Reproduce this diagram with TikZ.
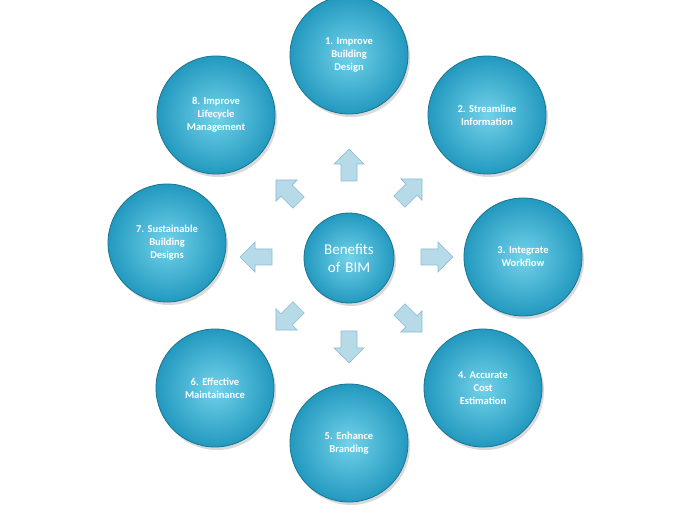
\documentclass[tikz,border=0pt]{standalone}
\usepackage{fontspec}
\setmainfont{Carlito}
\frenchspacing
\usetikzlibrary{shadows}
\definecolor{ballin}{HTML}{72D2EA}
\definecolor{ballout}{HTML}{2399BF}
\definecolor{arrfill}{HTML}{B7DAE8}
\definecolor{arrdraw}{HTML}{8CBCCF}
\tikzset{
 ball/.style={circle,minimum size=118pt,inner sep=0pt,draw=ballout!75!black,line width=0.8pt,
   shading=radial,inner color=ballin,outer color=ballout,text=white,align=center,
   font=\bfseries\fontsize{10.5}{13}\selectfont,text width=72pt,
   drop shadow={shadow xshift=2pt,shadow yshift=-3pt,opacity=0.3}},
 center/.style={ball,minimum size=90pt,font=\fontsize{15}{18}\selectfont,text width=60pt},
 barrow/.style={fill=arrfill,draw=arrdraw,line width=0.6pt}
}
\newcommand{\blkarrow}[3]{%
 \begin{scope}[shift={(#1,#2)},rotate=#3]
  \draw[barrow] (-15,-8) -- (2,-8) -- (2,-15) -- (17,0) -- (2,15) -- (2,8) -- (-15,8) -- cycle;
 \end{scope}}
\begin{document}
\begin{tikzpicture}[x=1pt,y=1pt]
\useasboundingbox (0,0) rectangle (698,514);
\node[center] (c) at (349,256) {Benefits of BIM};
\node[ball] (n1) at (349,459) {1. Improve\\ Building\\ Design};
\node[ball] (n2) at (487,399) {2. Streamline\\ Information};
\node[ball] (n3) at (523,257) {3. Integrate\\ Workflow};
\node[ball] (n4) at (483,126) {4. Accurate\\ Cost\\ Estimation};
\node[ball] (n5) at (349,71) {5. Enhance\\ Branding};
\node[ball] (n6) at (215,126) {6. Effective\\ Maintainance};
\node[ball] (n7) at (167,271) {7. Sustainable\\ Building\\ Designs};
\node[ball] (n8) at (216,399) {8. Improve\\ Lifecycle\\ Management};
\blkarrow{349}{348}{90}
\blkarrow{410}{323}{45}
\blkarrow{436}{257}{0}
\blkarrow{410}{194}{-45}
\blkarrow{349}{168}{-90}
\blkarrow{288}{196}{-135}
\blkarrow{257}{257}{180}
\blkarrow{288}{322}{135}
\end{tikzpicture}
\end{document}
